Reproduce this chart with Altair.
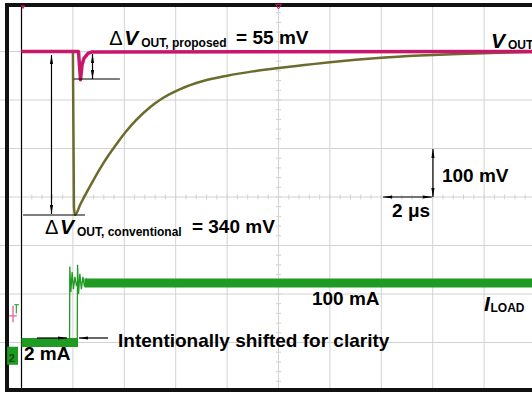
import altair as alt
import pandas as pd

FONT = "Liberation Sans"
MAGENTA = "#c8176b"
OLIVE = "#6b6b2b"
GREEN = "#1f9a22"
GRID = "#d2d2d2"

# ---- traces (time in us from left graticule edge, voltage in mV on screen, current in mA)
conv_t = [0, 1.0, 1.98, 2.0, 2.04, 2.08, 2.3, 2.55, 2.8, 3.05, 3.4, 3.75, 4.05, 4.45, 5.0,
          5.5, 6.2, 7.0, 8.0, 9.0, 10.0, 11.0, 12.0, 13.0, 14.0, 15.5, 17.0, 18.6, 19.9]
conv_v = [300, 300, 300, 298, -20, -37, -14, 11, 35, 58, 87, 113, 134, 158, 185,
          204, 223, 238, 250, 259, 266, 272, 278, 283, 287, 291.5, 295, 297.5, 299]

prop_t = [0, 2.218, 2.296, 2.354, 2.432, 2.588, 2.74, 19.9]
prop_v = [300, 300, 242, 272, 286, 296, 299, 300]

iload_low_t = [0, 2.2]
iload_low_ma = [2, 2]
iload_high_t = [2.45, 19.9]
iload_high_ma = [100, 100]
ring_a_t = [1.87, 1.88, 1.92, 1.97, 2.02, 2.08, 2.14, 2.2]
ring_a_ma = [2, 127, 85, 118, 90, 110, 95, 105]
ring_b_t = [2.17, 2.18, 2.22, 2.27, 2.33, 2.39, 2.45, 2.52, 2.6, 2.7, 2.8]
ring_b_ma = [2, 130, 82, 115, 90, 110, 94, 106, 97, 102, 100]

# ---- graticule
grid_t = [2, 4, 6, 8, 10, 12, 14, 16, 18]
grid_v = [-300, -200, -100, 0, 100, 200, 300]
minor_t = [round(0.4 * k, 2) for k in range(0, 51)]
minor_v = [20 * k for k in range(-20, 21)]

# ---- outline of the scope screen (open on the right)
frame_t = [20.3, -0.564, -0.564, 20.3]
frame_v = [-397.9, -397.9, 395.9, 395.9]

X_DOM = [-0.8366, 19.8638]
Y_DOM = [-400, 400]


def X(f):
    return alt.X(f, type="quantitative", scale=alt.Scale(domain=X_DOM, nice=False, zero=False), axis=None)


def Y(f):
    return alt.Y(f, type="quantitative", scale=alt.Scale(domain=Y_DOM, nice=False, zero=False), axis=None)


def rules(rows, color="black", width=1.0):
    df = pd.DataFrame(rows, columns=["t", "t2", "v", "v2"])
    return alt.Chart(df).mark_rule(color=color, strokeWidth=width).encode(
        x=X("t"), x2="t2", y=Y("v"), y2="v2")


def rects(rows, color="black"):
    df = pd.DataFrame(rows, columns=["t", "t2", "v", "v2"])
    return alt.Chart(df).mark_rect(color=color, opacity=1).encode(
        x=X("t"), x2="t2", y=Y("v"), y2="v2")


def line(ts, vs, color, width, interp="linear", join="round"):
    df = pd.DataFrame({"t": ts, "v": vs, "o": list(range(len(ts)))})
    return alt.Chart(df).mark_line(color=color, strokeWidth=width, strokeCap="butt",
                                   strokeJoin=join, interpolate=interp).encode(
        x=X("t"), y=Y("v"), order="o:Q")


def cur_line(ts, ma, color, width):
    df = pd.DataFrame({"t": ts, "ma": ma, "o": list(range(len(ts)))})
    return alt.Chart(df).transform_calculate(v="datum.ma * 1.252 - 302.5").mark_line(
        color=color, strokeWidth=width, strokeCap="butt").encode(x=X("t"), y=Y("v"), order="o:Q")


def txt(rows, size, weight="bold", style="normal", color="black"):
    df = pd.DataFrame(rows, columns=["t", "v", "s"])
    return alt.Chart(df).mark_text(align="left", baseline="alphabetic", font=FONT, fontSize=size,
                                   fontWeight=weight, fontStyle=style, color=color).encode(
        x=X("t"), y=Y("v"), text="s:N")


UP = "M0,-1L0.35,1L-0.35,1Z"
DOWN = "M0,1L0.35,-1L-0.35,-1Z"
RIGHT = "M1,0L-1,0.35L-1,-0.35Z"
LEFT = "M-1,0L1,0.35L1,-0.35Z"


def heads(rows, shape, size=81, color="black", filled=True):
    df = pd.DataFrame(rows, columns=["t", "v"])
    return alt.Chart(df).mark_point(shape=shape, size=size, filled=filled, color=color,
                                    opacity=1, strokeWidth=1).encode(x=X("t"), y=Y("v"))


layers = []
# grid
layers.append(rules([[t, t, -400, 400] for t in grid_t], GRID, 1))
layers.append(rules([[-0.84, 19.87, v, v] for v in grid_v], GRID, 1))
layers.append(rules([[t, t, -5, 5] for t in minor_t], GRID, 1))
layers.append(rules([[9.9, 10.1, v, v] for v in minor_v], GRID, 1))
layers.append(rules([[0, 0, -400, 400]], "black", 1.2))

# traces
layers.append(line(conv_t, conv_v, OLIVE, 2.5, "monotone"))
layers.append(line(prop_t, prop_v, MAGENTA, 3.5))
layers.append(cur_line(iload_low_t, iload_low_ma, GREEN, 9))
layers.append(cur_line(iload_high_t, iload_high_ma, GREEN, 9))
layers.append(cur_line(ring_a_t, ring_a_ma, GREEN, 1.3))
layers.append(cur_line(ring_b_t, ring_b_ma, GREEN, 1.3))

# annotation lines and arrows
layers.append(rules([
    [1.167, 1.167, 292.8, -35],      # big vertical arrow
    [0.058, 2.47, -37.1, -37.1],     # bottom reference line
    [2.763, 2.763, 294.8, 243.3],    # small vertical arrow
    [2.04, 3.83, 243.3, 243.3],      # small reference line
    [16.01, 16.01, 99, 0],           # 100 mV scale arrow
    [14.07, 15.97, 0, 0],            # 2 us scale arrow
    [0.6, 1.77, -290.7, -290.7],     # right arrow
    [2.237, 3.366, -290.7, -290.7],  # left arrow
], "black", 1.2))
layers.append(heads([[1.167, 283.5], [2.763, 285.5], [16.01, 89.7]], UP))
layers.append(heads([[1.167, -25.7], [2.763, 252.6], [16.01, 9.3]], DOWN))
layers.append(heads([[15.795, 0], [1.595, -290.7]], RIGHT))
layers.append(heads([[14.245, 0], [2.412, -290.7]], LEFT))

# texts
layers.append(txt([[3.41, 313.4, "\u0394"], [0.914, -76.3, "\u0394"]], 20, "normal"))
layers.append(txt([[4.0, 313.4, "V"], [1.5, -76.3, "V"], [18.27, 307, "V"], [18.0, -235, "I"]], 21, "bold", "italic"))
layers.append(txt([[4.66, 309.3, "OUT, proposed"], [2.16, -80.4, "OUT, conventional"],
                   [18.93, 305, "OUT"], [18.25, -237, "LOAD"]], 12, "bold"))
layers.append(txt([[8.35, 315.5, "= 55 mV"], [6.63, -74.2, "= 340 mV"],
                   [16.36, 31, "100 mV"], [11.3, -222.7, "100 mA"],
                   [14.42, -41.2, "2 \u03bcs"],
                   [3.755, -309.3, "Intentionally shifted for clarity"],
                   [0.097, -336, "2 mA"]], 19, "bold"))

# screen outline
layers.append(line(frame_t, frame_v, "#111111", 4, "linear", "miter"))

# scope markers
layers.append(heads([[10, 392.5]], "triangle-down", 30, MAGENTA, False))
layers.append(heads([[0.06, 391]], "triangle-down", 20, MAGENTA, True))
layers.append(rects([[-0.56, -0.136, -309, -346]], GREEN))
layers.append(txt([[-0.5, -340, "2"]], 11, "bold", "normal", "#0b4d0b"))
layers.append(rules([[-0.33, -0.33, -224, -258]], "#e07aa8", 1.5))
layers.append(rules([[-0.48, -0.18, -245, -245]], "#e07aa8", 1.5))
layers.append(rules([[-0.2, -0.2, -222, -240]], "#33aa33", 1.2))
layers.append(rules([[-0.28, -0.1, -222, -222]], "#33aa33", 1.2))

chart = alt.layer(*layers).properties(
    width=532, height=388,
    autosize=alt.AutoSizeParams(type="none"),
    padding={"left": 0, "right": 0, "top": 3, "bottom": 3},
    background="white",
).configure_view(strokeWidth=0)

chart.save("out.html", embed_options={"renderer": "svg", "actions": False})
